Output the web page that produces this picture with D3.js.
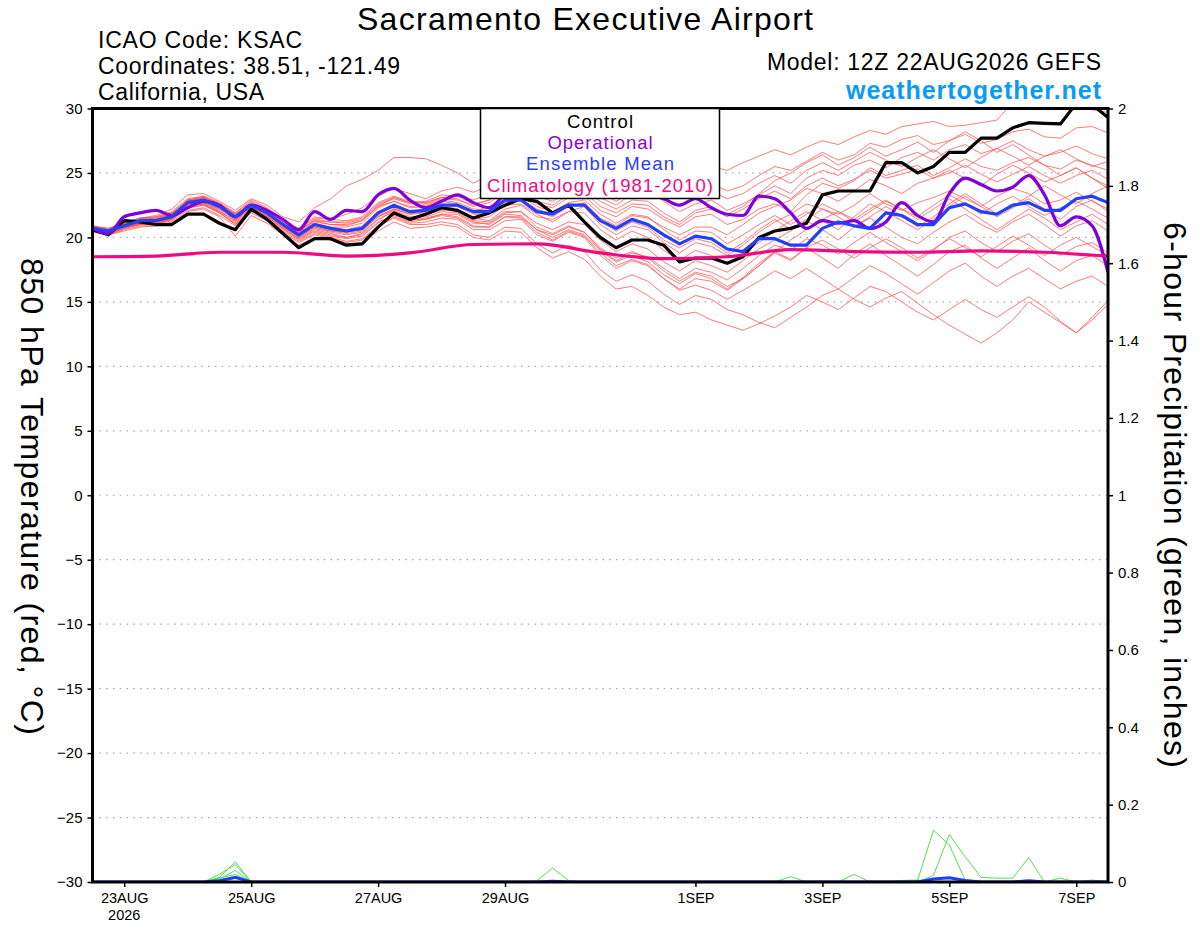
<!DOCTYPE html>
<meta charset="utf-8">
<style>
  body { margin: 0; background: #fff; }
  svg text { font-family: "Liberation Sans", Arial, sans-serif; }
</style>
<div id="meteo"></div>
<script src="https://d3js.org/d3.v7.min.js"></script>
<script>
// forecast steps (hours after 12Z 22AUG2026), 6-hourly out to 384h
var hours = [0,6,12,18,24,30,36,42,48,54,60,66,72,78,84,90,96,102,108,114,120,126,132,138,144,150,156,162,168,174,180,186,192,198,204,210,216,222,228,234,240,246,252,258,264,270,276,282,288,294,300,306,312,318,324,330,336,342,348,354,360,366,372,378,384];

var control = [20.6,20.2,21.3,21.2,21.0,21.0,21.8,21.8,21.1,20.6,22.2,21.4,20.3,
  19.2,19.9,19.9,19.4,19.5,20.8,21.9,21.4,21.8,22.3,22.1,21.5,21.9,
  22.5,23.0,22.8,21.9,22.5,21.2,20.0,19.2,19.8,19.8,19.4,18.1,18.4,
  18.4,18.0,18.5,20.0,20.5,20.7,21.1,23.3,23.6,23.6,23.6,25.8,25.8,
  25.0,25.5,26.6,26.6,27.7,27.7,28.5,28.9,28.85,28.8,30.4,30.3,29.3];

var operational = [20.7,20.3,21.6,21.9,22.1,21.7,22.3,22.8,22.5,21.6,22.5,22.1,21.4,
  20.6,22.0,21.4,22.1,22.0,23.3,23.8,22.9,22.3,22.8,23.3,22.7,22.3,
  23.3,23.6,23.9,24.1,23.7,23.5,23.7,23.9,23.6,23.4,23.0,22.5,23.0,
  22.3,21.8,21.7,23.2,23.0,21.9,20.7,21.3,21.1,21.3,20.7,21.2,22.7,
  21.7,21.2,23.4,24.6,24.1,23.6,23.9,24.8,23.3,20.9,21.6,20.9,17.3];

var ensMean = [20.7,20.5,20.9,21.3,21.3,21.6,22.7,22.9,22.4,21.6,22.5,21.9,21.0,
  20.2,21.0,20.7,20.5,20.7,21.9,22.5,22.0,22.1,22.5,22.5,22.0,22.0,
  22.9,22.9,22.0,21.8,22.5,22.5,21.3,20.7,21.4,21.0,20.2,19.5,20.1,
  19.9,19.1,18.9,19.9,19.9,19.4,19.4,20.7,21.2,20.9,20.7,21.9,21.7,
  21.0,21.0,22.3,22.6,22.0,21.8,22.5,22.7,22.1,22.1,23.0,23.2,22.7];

// climatology (1981-2010), daily
var climHours = [0,24,48,72,96,120,144,168,192,216,240,264,288,312,336,360,384];
var climatology = [18.5,18.55,18.85,18.85,18.55,18.8,19.45,19.5,18.8,18.35,18.5,19.05,18.9,18.85,18.95,18.85,18.55];

// ensemble members, 850 hPa temperature (C)
var m01 = [20.8,20.6,21.2,21.4,21.6,22.0,23.0,23.2,22.6,21.9,22.8,22.2,21.3,
  20.6,21.5,21.4,21.8,22.3,23.2,23.8,23.4,23.0,23.6,23.9,23.5,24.0,
  24.6,24.9,24.5,24.2,25.0,25.3,24.6,24.0,24.8,25.3,24.7,24.2,25.0,
  25.5,25.2,25.8,26.3,26.8,26.4,27.0,27.5,27.2,27.8,28.3,28.0,28.6,
  28.8,29.0,28.6,28.7,28.9,29.1,30.5,31.2,31.0,30.6,30.2,29.9,29.7];
var m02 = [20.5,20.3,20.8,21.1,21.2,21.8,22.9,23.1,22.5,21.4,22.6,21.8,20.9,
  20.3,21.2,21.0,20.9,21.3,22.4,23.1,22.7,22.8,23.3,23.2,22.9,23.4,
  24.1,24.3,23.8,23.5,24.2,24.6,23.9,23.2,23.8,24.1,23.6,23.0,23.9,
  24.2,23.6,24.0,24.8,25.5,25.2,25.9,26.6,26.0,26.4,27.3,27.0,27.6,
  27.9,27.2,27.5,28.0,27.3,27.6,28.2,28.4,27.8,27.7,28.5,28.6,28.1];
var m03 = [20.9,20.6,21.0,21.5,21.7,22.2,23.3,23.4,22.8,22.1,23.0,22.5,21.6,
  21.2,22.3,23.0,24.0,24.5,25.2,26.2,26.2,26.1,25.6,25.0,24.2,24.8,
  25.0,24.4,23.6,23.2,23.8,24.0,23.1,22.5,23.4,23.6,22.8,22.0,22.6,
  22.9,22.1,22.6,23.3,24.0,23.4,24.6,25.2,24.8,25.6,26.0,25.4,26.2,
  26.6,26.0,26.8,27.2,26.5,26.9,27.5,26.8,26.3,26.6,27.1,26.5,26.1];
var m04 = [20.6,20.4,21.0,21.2,21.4,21.7,22.8,23.1,22.6,21.8,22.6,22.0,21.1,
  20.4,21.0,20.8,20.8,21.1,22.3,22.8,22.3,22.4,22.8,22.6,22.0,22.4,
  23.2,23.4,22.6,22.3,23.1,23.2,22.1,21.6,22.4,22.2,21.4,20.8,21.6,
  21.8,21.0,21.4,22.2,22.6,22.0,23.3,24.2,23.8,24.4,25.4,24.8,25.2,
  25.6,24.8,25.4,26.1,25.5,25.2,25.8,26.2,25.6,25.3,26.0,25.6,25.2];
var m05 = [20.8,20.7,21.1,21.5,21.5,21.9,22.6,22.8,22.3,21.5,22.4,21.7,20.8,
  20.0,20.8,20.5,20.3,20.5,21.6,22.2,21.8,22.0,22.3,22.4,21.8,21.8,
  22.7,22.9,22.0,21.6,22.4,22.7,21.5,20.9,21.7,21.5,20.8,20.2,20.8,
  20.8,20.2,21.0,21.9,22.4,22.9,23.8,23.4,22.8,23.6,24.5,24.0,23.4,
  24.2,24.6,25.2,24.6,24.0,24.9,25.6,25.0,24.3,24.8,25.4,24.6,24.0];
var m06 = [20.5,20.3,20.7,21.0,21.1,21.4,22.5,22.6,22.1,21.2,22.2,21.6,20.7,
  19.9,20.6,20.3,20.0,20.3,21.4,22.0,21.5,21.8,22.1,22.2,21.5,21.3,
  22.2,22.5,21.6,21.4,22.0,22.4,21.0,20.2,20.9,20.6,19.6,18.8,19.6,
  19.3,18.6,19.4,20.4,21.2,21.8,22.6,22.2,21.8,22.5,23.4,22.6,22.1,
  22.7,23.1,23.6,23.0,22.4,23.2,23.8,23.4,22.6,22.9,23.5,22.8,22.2];
var m07 = [20.7,20.5,20.9,21.3,21.2,21.5,22.4,22.6,22.0,21.3,22.3,21.8,21.0,
  20.3,21.1,20.8,20.6,20.9,22.0,22.3,21.9,22.2,22.4,22.0,21.4,21.6,
  22.5,22.6,21.8,21.2,22.0,21.9,20.6,19.8,20.5,20.0,19.0,18.2,19.0,
  18.6,17.9,18.8,19.6,20.5,21.3,22.0,21.3,20.6,21.6,22.6,22.0,21.3,
  20.6,21.4,22.4,23.2,22.4,21.6,22.3,23.0,22.2,21.4,22.4,22.9,22.0];
var m08 = [20.6,20.4,20.8,21.1,21.0,21.3,22.3,22.5,21.9,21.1,22.1,21.5,20.6,
  19.8,20.4,20.1,19.9,20.1,21.1,21.8,21.3,21.5,21.8,21.8,21.1,21.1,
  21.9,22.0,21.1,20.6,21.2,21.0,19.8,18.9,19.5,19.1,18.1,17.4,18.2,
  17.8,17.3,18.2,19.1,19.8,20.5,21.3,20.6,19.8,20.8,21.5,20.8,20.0,
  19.5,20.4,21.2,21.8,21.0,20.4,21.2,21.8,21.0,20.1,20.9,21.3,20.5];
var m09 = [20.9,20.6,21.0,21.2,21.3,21.7,22.5,22.7,22.2,21.6,22.4,21.6,20.8,
  20.1,20.9,20.6,20.4,20.6,21.6,22.1,21.6,21.6,22.0,21.9,21.2,21.0,
  21.8,21.7,20.6,20.2,20.8,20.4,19.1,18.2,18.8,18.5,17.6,16.8,17.6,
  17.3,16.7,17.6,18.6,19.4,19.0,19.9,19.4,18.7,19.6,20.4,19.6,18.9,
  18.2,19.0,20.0,20.5,19.6,18.9,19.7,20.3,19.4,18.6,19.3,19.6,18.8];
var m10 = [20.4,20.2,20.6,20.9,20.9,21.2,22.1,22.3,21.7,20.9,21.9,21.3,20.4,
  19.6,20.2,19.9,19.6,19.8,20.8,21.6,21.1,21.2,21.5,21.4,20.6,20.6,
  21.3,21.4,20.2,19.7,20.4,20.0,18.6,17.6,18.2,17.8,16.8,16.0,16.8,
  16.6,15.9,16.8,17.8,18.8,18.2,19.2,18.4,17.6,18.7,19.5,18.6,17.8,
  17.0,17.9,18.9,19.4,18.4,17.6,18.4,19.2,18.2,17.4,18.2,18.6,17.8];
var m11 = [20.6,20.3,20.7,21.0,21.1,21.4,22.4,22.6,22.0,21.0,22.0,21.5,20.5,
  19.7,20.3,20.0,19.7,19.9,20.9,21.5,21.0,21.0,21.2,21.0,20.2,20.0,
  20.8,20.7,19.5,18.8,19.4,18.9,17.5,16.6,17.1,16.6,15.6,14.8,15.5,
  15.2,14.4,14.0,13.4,13.0,13.8,14.6,15.5,16.0,15.2,14.6,15.3,15.8,
  14.9,14.0,13.2,12.5,11.8,12.6,13.6,15.0,14.2,13.4,12.6,13.8,15.1];
var m12 = [20.5,20.2,20.5,20.8,20.9,21.1,22.0,22.2,21.6,20.1,21.7,21.1,20.2,
  19.4,20.0,19.8,19.5,19.6,20.5,21.2,20.7,20.8,21.0,20.8,20.0,19.8,
  20.5,20.4,19.2,18.4,18.9,18.3,17.0,16.0,16.2,15.5,14.6,14.0,14.2,
  13.6,13.2,12.8,13.3,13.9,14.6,15.5,15.0,14.4,15.3,16.2,15.8,15.0,
  14.2,13.6,14.4,15.2,14.4,13.8,14.6,15.4,14.6,13.5,12.6,13.6,14.8];
var m13 = [20.7,20.4,20.8,21.1,21.1,21.5,22.6,22.7,22.2,21.3,22.3,21.7,20.9,
  20.0,20.7,20.4,20.2,20.4,21.4,22.0,21.4,21.4,21.8,21.6,20.9,20.8,
  21.6,21.5,20.4,19.8,20.5,20.1,18.8,17.8,18.3,17.9,16.8,15.9,16.3,
  15.9,15.2,15.9,16.6,17.4,16.8,17.6,16.8,16.0,16.9,17.8,17.2,16.4,
  15.6,16.5,17.4,18.0,17.0,16.2,17.0,17.6,16.8,16.0,16.6,17.0,16.2];
var m14 = [20.9,20.7,21.2,21.5,21.6,21.9,22.9,23.2,22.7,21.9,22.9,22.3,21.4,
  20.7,21.6,21.4,21.3,21.6,22.7,23.2,22.8,22.7,23.1,23.0,22.4,22.7,
  23.5,23.6,22.8,22.5,23.3,23.5,22.4,21.9,22.6,22.5,21.6,21.0,21.9,
  22.2,21.6,22.2,23.0,23.6,23.0,24.0,24.6,24.0,24.5,25.2,24.6,24.9,
  25.3,24.6,25.0,25.6,24.9,24.3,24.9,25.5,24.8,24.2,24.8,25.2,24.5];
var m15 = [20.8,20.5,20.9,21.2,21.4,21.8,22.8,23.0,22.4,21.5,22.5,21.9,21.1,
  20.4,21.3,21.0,21.0,21.3,22.4,22.8,22.4,22.5,22.9,22.7,22.2,22.1,
  23.0,23.2,22.4,22.0,22.7,22.9,21.8,21.1,21.8,21.6,20.6,19.8,20.5,
  20.4,19.5,20.2,21.0,21.7,21.0,21.8,22.6,22.0,21.4,22.2,22.9,22.2,
  21.6,22.5,23.3,22.6,21.8,22.6,23.2,22.4,21.7,22.3,22.8,22.2,21.5];
var m16 = [20.6,20.4,20.9,21.2,21.3,21.6,22.6,22.8,22.3,21.4,22.4,21.8,20.9,
  20.1,20.8,20.5,20.4,20.7,21.7,22.2,21.8,21.9,22.2,22.0,21.3,21.2,
  22.0,22.0,20.8,20.3,20.9,20.4,19.2,18.4,18.9,18.4,17.4,16.6,17.3,
  17.0,16.2,16.8,17.8,18.9,19.8,20.6,21.4,22.0,21.2,22.0,22.8,22.2,
  21.4,22.2,23.0,22.2,21.4,20.6,21.4,22.2,21.5,20.6,21.2,21.8,21.0];
var m17 = [20.7,20.6,21.1,21.4,21.5,21.8,22.9,23.1,22.5,21.8,22.7,22.1,21.2,
  20.5,21.4,21.2,21.1,21.4,22.5,23.0,22.6,22.6,23.0,22.9,22.5,22.9,
  23.8,24.1,23.5,23.0,23.8,24.3,23.5,22.8,23.5,23.7,23.0,22.4,23.2,
  23.6,23.0,23.4,24.2,24.8,24.2,25.2,25.8,25.2,25.9,26.6,26.0,25.5,
  26.2,26.8,26.1,25.4,26.2,26.9,26.3,25.6,26.3,26.8,26.1,25.5,25.9];
var m18 = [20.5,20.2,20.7,21.1,21.2,21.5,22.6,22.9,22.4,21.6,22.5,21.9,21.0,
  20.2,21.0,20.7,20.5,20.8,21.8,22.4,22.0,22.1,22.5,22.5,21.9,21.9,
  22.8,23.0,22.2,21.8,22.5,22.6,21.3,20.5,21.2,20.8,19.8,19.2,19.9,
  19.6,18.8,19.6,20.6,21.4,20.6,21.4,22.2,21.6,20.8,21.6,22.4,21.7,
  20.8,21.6,22.6,23.4,22.6,21.8,22.4,23.2,24.0,23.3,22.6,23.4,24.0];
var m19 = [20.6,20.4,20.8,21.0,21.0,21.4,22.3,22.5,21.9,21.0,22.1,21.6,20.7,
  19.9,20.5,20.2,20.0,20.2,21.2,21.7,21.2,21.4,21.7,21.5,20.8,20.8,
  21.6,21.6,20.6,20.0,20.6,20.2,19.0,18.1,18.6,18.1,17.1,16.4,17.2,
  16.8,16.0,16.9,18.0,18.9,18.3,19.2,19.8,19.1,18.4,19.2,19.9,19.2,
  18.4,19.1,19.9,19.2,18.5,19.3,20.1,19.4,18.6,19.4,20.0,19.3,18.6];
var m20 = [20.8,20.6,21.1,21.4,21.4,21.8,22.8,23.0,22.4,21.7,22.6,22.0,21.2,
  20.5,21.3,21.2,21.2,21.5,22.6,23.1,22.7,22.7,23.1,23.2,22.6,22.9,
  23.7,23.9,23.2,22.8,23.5,23.8,22.8,22.2,22.9,22.8,21.9,21.2,22.1,
  22.4,21.8,22.4,23.4,24.4,25.0,25.8,26.4,25.6,26.2,27.0,26.3,26.8,
  27.4,26.6,27.5,28.2,27.5,26.6,27.2,26.4,25.6,24.8,25.4,24.6,23.8];
var members = [m01,m02,m03,m04,m05,m06,m07,m08,m09,m10,m11,m12,m13,m14,m15,m16,m17,m18,m19,m20];

// 6-hour precipitation (inches): [member, step, amount]; every other step is 0
var precipEvents = [
  [1,8,0.012],[1,9,0.052],[4,8,0.02],[4,9,0.045],[6,8,0.008],[6,9,0.03],
  [10,8,0.01],[10,9,0.02],[13,9,0.014],[15,9,0.01],
  [3,28,0.003],[3,29,0.036],[3,30,0.004],
  [8,44,0.014],[12,48,0.02],
  [9,51,0.004],[9,52,0.005],
  [0,52,0.004],[0,53,0.134],[0,54,0.096],[0,55,0.005],
  [5,53,0.017],[5,54,0.123],[5,55,0.065],[5,56,0.012],[5,57,0.01],[5,58,0.01],[5,59,0.063],
  [2,61,0.01],[11,63,0.005]
];
var meanPrecipEvents = [[8,0.003],[9,0.012],[29,0.002],[53,0.008],[54,0.011],[55,0.004],[59,0.003]];

var tempTicks = [-30,-25,-20,-15,-10,-5,0,5,10,15,20,25,30];
var gridTicks = [-25,-20,-15,-10,-5,0,5,10,15,20,25];
var precipTicks = [0,0.2,0.4,0.6,0.8,1,1.2,1.4,1.6,1.8,2];
var dayTicks = ["2026-08-23","2026-08-25","2026-08-27","2026-08-29","2026-09-01","2026-09-03","2026-09-05","2026-09-07"];

var margin = {top: 108.5, right: 92, bottom: 45, left: 92.5},
    width = 1200 - margin.left - margin.right,
    height = 927 - margin.top - margin.bottom;

var svg = d3.select("#meteo").append("svg").attr("width", 1200).attr("height", 927);
svg.append("defs").append("clipPath").attr("id", "plotclip")
  .append("rect").attr("width", width).attr("height", height);
var g = svg.append("g").attr("transform", "translate(" + margin.left + "," + margin.top + ")");

var t0 = Date.UTC(2026, 7, 22, 12);
function when(h) { return new Date(t0 + h * 3600e3); }

var x = d3.scaleUtc().domain([when(0), when(384)]).range([0, width]);
var y = d3.scaleLinear().domain([-30, 30]).range([height, 0]);
var yp = d3.scaleLinear().domain([0, 2]).range([height, 0]);

// dotted grid
g.append("g").selectAll("line").data(gridTicks).enter().append("line")
  .attr("x1", 0).attr("x2", width)
  .attr("y1", function(d) { return y(d); }).attr("y2", function(d) { return y(d); })
  .attr("stroke", "#a8a8a8").attr("stroke-width", 1.2).attr("stroke-dasharray", "1.5,5.3");

var plot = g.append("g").attr("clip-path", "url(#plotclip)");

var tline = d3.line().x(function(d, i) { return x(when(hours[i])); }).y(function(d) { return y(d); });
var pline = d3.line().x(function(d, i) { return x(when(hours[i])); }).y(function(d) { return yp(d); });

// ensemble members
plot.append("g").selectAll("path").data(members).enter().append("path")
  .attr("d", tline).attr("fill", "none")
  .attr("stroke", "#ff5050").attr("stroke-width", 0.9).attr("stroke-opacity", 0.85);

// precipitation
var precip = members.map(function() { return hours.map(function() { return 0; }); });
precipEvents.forEach(function(e) { precip[e[0]][e[1]] = e[2]; });
var meanPrecip = hours.map(function() { return 0; });
meanPrecipEvents.forEach(function(e) { meanPrecip[e[0]] = e[1]; });

plot.append("g").selectAll("path").data(precip).enter().append("path")
  .attr("d", pline).attr("fill", "none")
  .attr("stroke", "#3ddc3d").attr("stroke-width", 0.9);
plot.append("path").datum(meanPrecip).attr("d", pline).attr("fill", "none")
  .attr("stroke", "#1f3cff").attr("stroke-width", 3);

// control, operational, mean, climatology
plot.append("path").datum(control).attr("d", tline).attr("fill", "none")
  .attr("stroke", "#000").attr("stroke-width", 3.2).attr("stroke-linejoin", "round");
plot.append("path").datum(operational).attr("d", tline.curve(d3.curveMonotoneX)).attr("fill", "none")
  .attr("stroke", "#8000dc").attr("stroke-width", 3.2).attr("stroke-linejoin", "round");
tline.curve(d3.curveLinear);
plot.append("path").datum(ensMean).attr("d", tline).attr("fill", "none")
  .attr("stroke", "#2040ff").attr("stroke-width", 3.2).attr("stroke-linejoin", "round");
plot.append("path").datum(climatology)
  .attr("d", d3.line().curve(d3.curveMonotoneX)
    .x(function(d, i) { return x(when(climHours[i])); })
    .y(function(d) { return y(d); }))
  .attr("fill", "none").attr("stroke", "#ee0a82").attr("stroke-width", 3.2);

// axes
var fmtDay = d3.utcFormat("%-d%b");
var xAxis = g.append("g").attr("transform", "translate(0," + height + ")")
  .call(d3.axisBottom(x).tickValues(dayTicks.map(function(s) { return new Date(s + "T00:00:00Z"); }))
    .tickFormat(function(d) { return fmtDay(d).toUpperCase(); }).tickSize(5).tickPadding(6));
xAxis.select(".domain").remove();
xAxis.selectAll("text").attr("font-size", 14.5).attr("fill", "#000");
xAxis.selectAll("line").attr("stroke-width", 1.5);
xAxis.append("text").attr("x", x(new Date(dayTicks[0] + "T00:00:00Z"))).attr("y", 38)
  .attr("text-anchor", "middle").attr("font-size", 14.5).attr("fill", "#000").text("2026");

var yAxis = g.append("g").call(d3.axisLeft(y).tickValues(tempTicks).tickSize(5).tickPadding(5));
yAxis.select(".domain").remove();
yAxis.selectAll("text").attr("font-size", 15).attr("fill", "#000");
yAxis.selectAll("line").attr("stroke-width", 1.5);

var pAxis = g.append("g").attr("transform", "translate(" + width + ",0)")
  .call(d3.axisRight(yp).tickValues(precipTicks).tickFormat(d3.format("~g")).tickSize(5).tickPadding(5));
pAxis.select(".domain").remove();
pAxis.selectAll("text").attr("font-size", 15).attr("fill", "#000");
pAxis.selectAll("line").attr("stroke-width", 1.5);

// frame
g.append("rect").attr("width", width).attr("height", height)
  .attr("fill", "none").attr("stroke", "#000").attr("stroke-width", 3);

// legend
var legendItems = [["Control", "#000", 66], ["Operational", "#8a00dc", 105],
                   ["Ensemble Mean", "#2b3cff", 148], ["Climatology (1981-2010)", "#ee0a82", 226]];
svg.append("rect").attr("x", 480.5).attr("y", 108.5).attr("width", 239).attr("height", 90)
  .attr("fill", "#fff").attr("stroke", "#000").attr("stroke-width", 1.5);
svg.selectAll(".leg").data(legendItems).enter().append("text").attr("class", "leg")
  .attr("x", 600).attr("y", function(d, i) { return 127.5 + i * 21.4; })
  .attr("text-anchor", "middle").attr("font-size", 18.5)
  .attr("textLength", function(d) { return d[2]; }).attr("lengthAdjust", "spacing")
  .attr("fill", function(d) { return d[1]; }).text(function(d) { return d[0]; });

// header texts
svg.append("text").attr("x", 585).attr("y", 30).attr("text-anchor", "middle")
  .attr("font-size", 32).attr("textLength", 456).attr("lengthAdjust", "spacing")
  .text("Sacramento Executive Airport");
var info = [["ICAO Code: KSAC", 48, 204], ["Coordinates: 38.51, -121.49", 74, 302], ["California, USA", 100, 166]];
svg.selectAll(".info").data(info).enter().append("text").attr("class", "info")
  .attr("x", 98).attr("y", function(d) { return d[1]; })
  .attr("font-size", 23).attr("textLength", function(d) { return d[2]; }).attr("lengthAdjust", "spacing")
  .text(function(d) { return d[0]; });
svg.append("text").attr("x", 767).attr("y", 70).attr("font-size", 23)
  .attr("textLength", 334).attr("lengthAdjust", "spacing").text("Model: 12Z 22AUG2026 GEFS");
svg.append("text").attr("x", 846).attr("y", 98.5).attr("font-size", 25).attr("font-weight", "bold")
  .attr("fill", "#0a9bf5").attr("textLength", 255).attr("lengthAdjust", "spacing")
  .text("weathertogether.net");

// axis titles (both read top to bottom)
svg.append("text").attr("transform", "translate(21,496.5) rotate(90)")
  .attr("text-anchor", "middle").attr("font-size", 32)
  .attr("textLength", 477).attr("lengthAdjust", "spacing")
  .text("850 hPa Temperature (red, \u00B0C)");
svg.append("text").attr("transform", "translate(1164,495) rotate(90)")
  .attr("text-anchor", "middle").attr("font-size", 32)
  .attr("textLength", 546).attr("lengthAdjust", "spacing")
  .text("6-hour Precipitation (green, inches)");
</script>
